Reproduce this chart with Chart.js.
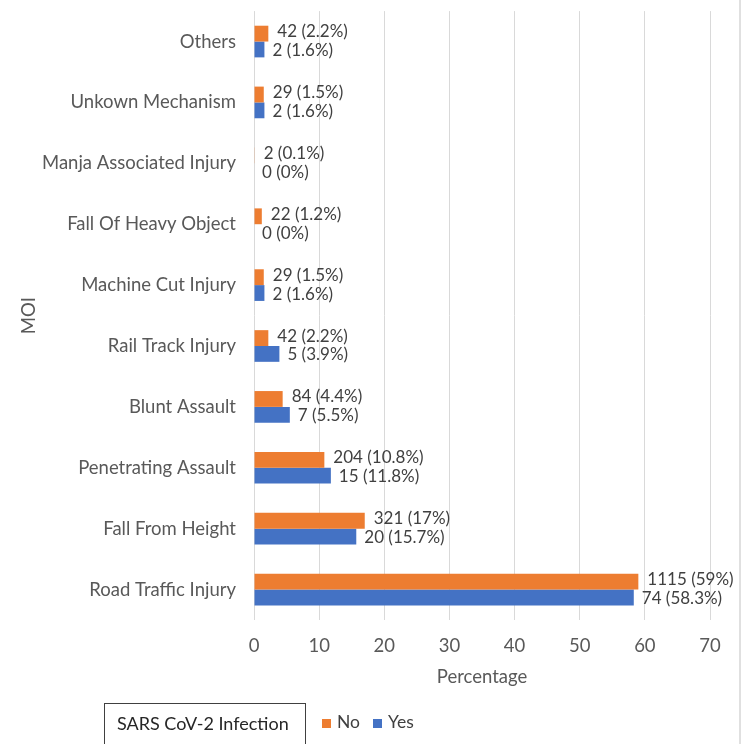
<!DOCTYPE html>
<html>
<head>
<meta charset="utf-8">
<script src="https://cdn.jsdelivr.net/npm/chart.js@4"></script>
<style>
  body { margin: 0; background: #fff; }
  #wrap { position: relative; width: 750px; height: 744px; }
  #frame { position: absolute; left: 739px; top: 0; width: 2px; height: 744px; background: #e0e0e0; }
  #legendBox {
    position: absolute; left: 104px; top: 703px; width: 202px; height: 50px;
    border: 1px solid #404040; box-sizing: border-box;
    font: 18px Lato, sans-serif; color: #262626; padding: 8px 0 0 12px;
  }
  #legendItems {
    position: absolute; left: 322px; top: 711px;
    font: 17.5px Lato, sans-serif; color: #404040;
  }
  #legendItems span.sw { display: inline-block; width: 9px; height: 9px; margin-right: 6px; }
  #legendItems span.item { margin-right: 13px; }
</style>
</head>
<body>
<div id="wrap">
  <canvas id="chart" width="750" height="744"></canvas>
  <div id="frame"></div>
  <div id="legendBox">SARS CoV-2 Infection</div>
  <div id="legendItems"></div>
</div>
<script>
document.addEventListener('DOMContentLoaded', function() {
  const categories = ['Others', 'Unkown Mechanism', 'Manja Associated Injury', 'Fall Of Heavy Object',
    'Machine Cut Injury', 'Rail Track Injury', 'Blunt Assault', 'Penetrating Assault',
    'Fall From Height', 'Road Traffic Injury'];
  const noCounts = [42, 29, 2, 22, 29, 42, 84, 204, 321, 1115];
  const noPct = [2.2, 1.5, 0.1, 1.2, 1.5, 2.2, 4.4, 10.8, 17, 59];
  const yesCounts = [2, 2, 0, 0, 2, 5, 7, 15, 20, 74];
  const yesPct = [1.6, 1.6, 0, 0, 1.6, 3.9, 5.5, 11.8, 15.7, 58.3];
  const xTicks = [0, 10, 20, 30, 40, 50, 60, 70];

  const orange = '#ED7D31';
  const blue = '#4472C4';
  const axisFont = { family: 'Lato', size: 18.5 };

  // labels next to each bar: "count (pct%)"
  const barLabels = {
    id: 'barLabels',
    afterDatasetsDraw(chart) {
      const ctx = chart.ctx;
      ctx.save();
      ctx.font = '17px Lato, sans-serif';
      ctx.fillStyle = '#404040';
      ctx.textBaseline = 'middle';
      chart.data.datasets.forEach((ds, di) => {
        const meta = chart.getDatasetMeta(di);
        meta.data.forEach((bar, i) => {
          const txt = ds.counts[i] + ' (' + ds.data[i] + '%)';
          ctx.fillText(txt, bar.x + (di === 0 ? 9 : 8), bar.y + (di === 0 ? -2 : 1));
        });
      });
      ctx.restore();
    }
  };

  const chart = new Chart(document.getElementById('chart'), {
    type: 'bar',
    data: {
      labels: categories,
      datasets: [
        { label: 'No', data: noPct, counts: noCounts, backgroundColor: orange,
          categoryPercentage: 0.52, barPercentage: 1 },
        { label: 'Yes', data: yesPct, counts: yesCounts, backgroundColor: blue,
          categoryPercentage: 0.52, barPercentage: 1 }
      ]
    },
    options: {
      indexAxis: 'y',
      responsive: false,
      animation: false,
      layout: { padding: { top: 0, right: 40, bottom: 56, left: 14 } },
      plugins: { legend: { display: false }, tooltip: { enabled: false } },
      scales: {
        x: {
          min: 0, max: 70,
          afterBuildTicks: (s) => { s.ticks = xTicks.map(v => ({ value: v })); },
          grid: { color: '#d9d9d9', drawTicks: false },
          border: { display: false },
          ticks: { color: '#595959', padding: 15, font: axisFont },
          title: { display: true, text: 'Percentage', color: '#595959',
                   font: axisFont, padding: { top: 4, bottom: 0 } },
          afterFit: (s) => { s.height = 68; }
        },
        y: {
          grid: { display: false, drawTicks: true, tickLength: 18 },
          border: { display: false },
          ticks: { color: '#595959', padding: 0, font: axisFont },
          title: { display: true, text: 'MOI', color: '#595959', font: axisFont },
          afterFit: (s) => { s.width = 240; }
        }
      }
    },
    plugins: [barLabels]
  });

  // html legend built from the datasets
  const legendEl = document.getElementById('legendItems');
  chart.data.datasets.forEach(ds => {
    const item = document.createElement('span');
    item.className = 'item';
    item.innerHTML = '<span class="sw" style="background:' + ds.backgroundColor + '"></span>' + ds.label;
    legendEl.appendChild(item);
  });
});
</script>
</body>
</html>
